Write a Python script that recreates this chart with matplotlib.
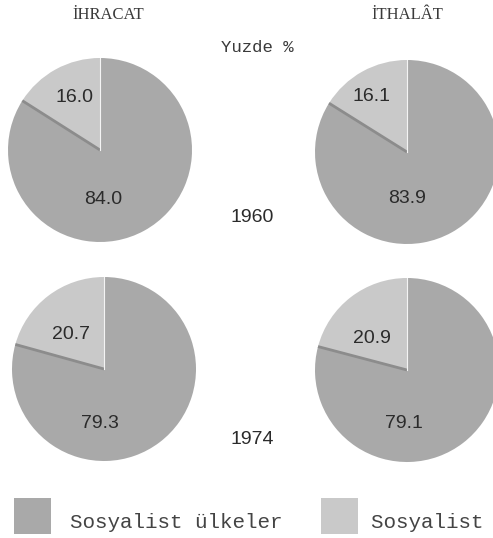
import matplotlib
matplotlib.use("Agg")
import matplotlib.pyplot as plt
from matplotlib.patches import Rectangle

# data (percent)
years = ["1960", "1974"]
titles = ["İHRACAT", "İTHALÂT"]
sosyalist = [[84.0, 83.9], [79.3, 79.1]]      # [year][ihracat, ithalat]
diger = [[16.0, 16.1], [20.7, 20.9]]
legend_labels = ["Sosyalist ülkeler", "Sosyalist olmayan ülkeler"]

dark = "#a9a9a9"
light = "#c9c9c9"

W, H = 493, 538
fig = plt.figure(figsize=(W / 100, H / 100), dpi=100)
fig.patch.set_facecolor("white")

# pie centres in pixels (x, y from top), radius
centres = [[(100, 150), (407, 152)], [(104, 369), (407, 370)]]
R = 92
# label offsets in radius units: (light label, dark label)
lab_pos = [[((-0.28, 0.57), (0.03, -0.54)), ((-0.39, 0.60), (0.0, -0.51))],
           [((-0.36, 0.38), (-0.04, -0.59)), ((-0.38, 0.34), (-0.03, -0.58))]]

num_font = dict(family="Liberation Sans", fontsize=14, color="#2b2b2b")

for i in range(2):
    for j in range(2):
        cx, cy = centres[i][j]
        ax = fig.add_axes([(cx - R) / W, (H - cy - R) / H, 2 * R / W, 2 * R / H])
        vals = [diger[i][j], sosyalist[i][j]]
        ax.pie(vals, colors=[light, dark], startangle=90, counterclock=True,
               radius=1, wedgeprops=dict(linewidth=0))
        # dark seam along the left edge of the light slice
        import numpy as np
        a = np.deg2rad(90 + 360 * diger[i][j] / 100)
        ax.plot([0, np.cos(a)], [0, np.sin(a)], color="#8c8c8c", lw=2.0,
                solid_capstyle="butt")
        ax.plot([0, 0], [0, 1], color="#f4f4f4", lw=0.8)
        (lx, ly), (dx, dy) = lab_pos[i][j]
        ax.text(lx, ly, f"{diger[i][j]:.1f}", ha="center", va="center", **num_font)
        ax.text(dx, dy, f"{sosyalist[i][j]:.1f}", ha="center", va="center", **num_font)
        ax.set_xlim(-1, 1)
        ax.set_ylim(-1, 1)
        ax.set_aspect("equal")
        ax.axis("off")

# titles
for x, t in zip([108, 407], titles):
    fig.text(x / W, 1 - 15 / H, t, ha="center", va="center",
             family="Liberation Serif", fontsize=12, color="#3a3a3a")
fig.text(257 / W, 1 - 48 / H, "Yuzde %", ha="center", va="center",
         family="Liberation Mono", fontsize=12.5, color="#3a3a3a")

# years
for y, yr in zip([218, 440], years):
    fig.text(252 / W, 1 - y / H, yr, ha="center", va="center", **num_font)

# legend
for (x0, tx), col, lab in zip([(14, 70), (321, 371)], [dark, light], legend_labels):
    fig.add_artist(Rectangle((x0 / W, 1 - 534 / H), 37 / W, 36 / H,
                             transform=fig.transFigure, facecolor=col,
                             edgecolor="none"))
    fig.text(tx / W, 1 - 522 / H, lab, ha="left", va="center",
             family="Liberation Mono", fontsize=15, color="#444444")

fig.savefig("out.png", dpi=100, facecolor="white")
